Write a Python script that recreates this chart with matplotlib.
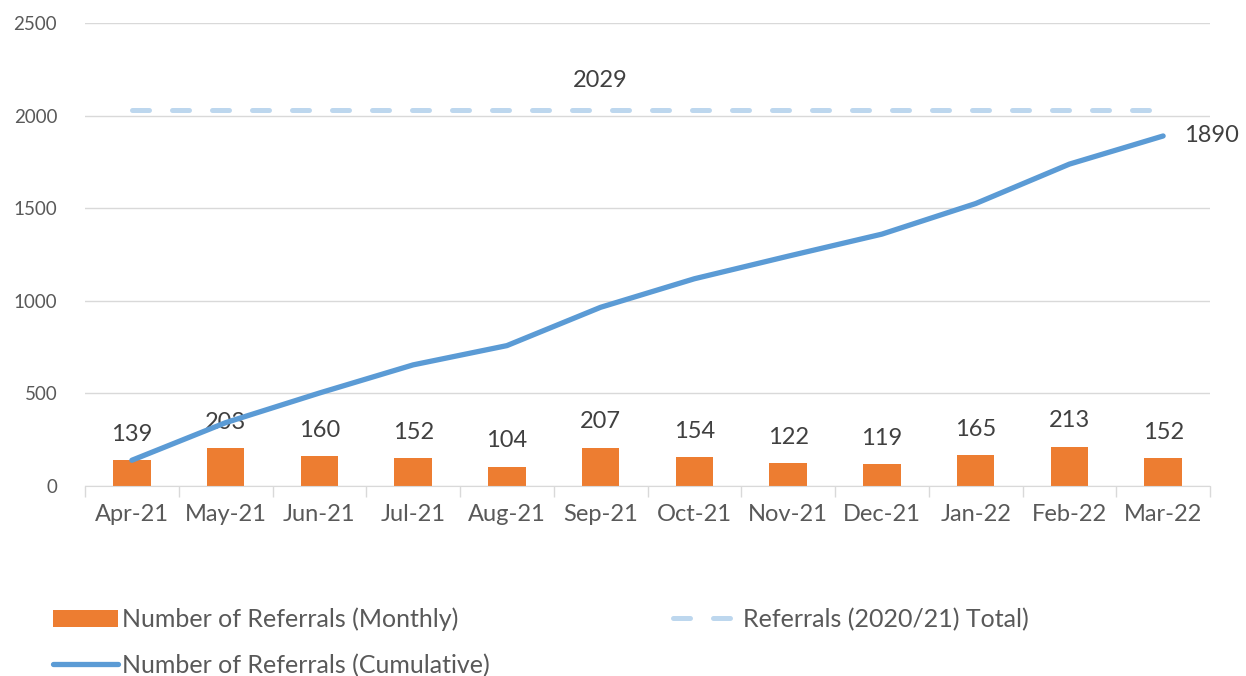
import matplotlib.pyplot as plt
import numpy as np

months = ['Apr-21', 'May-21', 'Jun-21', 'Jul-21', 'Aug-21', 'Sep-21',
          'Oct-21', 'Nov-21', 'Dec-21', 'Jan-22', 'Feb-22', 'Mar-22']
monthly = [139, 203, 160, 152, 104, 207, 154, 122, 119, 165, 213, 152]
cumulative = [139, 342, 502, 654, 758, 965, 1119, 1241, 1360, 1525, 1738, 1890]
prev_total = 2029

plt.rcParams['font.family'] = ['Lato', 'DejaVu Sans']
txt = '#404040'
grey = '#595959'

fig = plt.figure(figsize=(12.46, 6.76), dpi=100)
ax = fig.add_axes([85 / 1246, 1 - 486 / 676, (1210 - 85) / 1246, (486 - 23) / 676])

x = np.arange(len(months))

# bars + labels
bars = ax.bar(x, monthly, width=0.4, color='#ED7D31', zorder=2,
              label='Number of Referrals (Monthly)')
for xi, v in zip(x, monthly):
    ax.annotate(str(v), (xi, v), xytext=(0, 11), textcoords='offset points',
                ha='center', va='bottom', fontsize=17, color=txt)

# previous year total
tot, = ax.plot(x, [prev_total] * len(x), color='#BDD7EE', lw=3.6,
               dashes=(3.4, 4.6), dash_capstyle='round', zorder=3,
               label='Referrals (2020/21) Total)')
ax.annotate(str(prev_total), (x[5], prev_total), xytext=(0, 14),
            textcoords='offset points', ha='center', va='bottom',
            fontsize=17, color=txt)

# cumulative
cum, = ax.plot(x, cumulative, color='#5B9BD5', lw=3.8, zorder=4,
               solid_capstyle='round', label='Number of Referrals (Cumulative)')
ax.annotate(str(cumulative[-1]), (x[-1], cumulative[-1]), xytext=(15, 0),
            textcoords='offset points', ha='left', va='center',
            fontsize=17, color=txt)

ax.set_xlim(-0.5, len(x) - 0.5)
ax.set_ylim(0, 2500)
ax.set_yticks(range(0, 2501, 500))
ax.yaxis.grid(True, color='#D9D9D9', lw=1)
ax.set_axisbelow(True)

ax.set_xticks(x)
ax.set_xticklabels(months, fontsize=17, color=grey)
ax.set_xticks(np.arange(-0.5, len(x)), minor=True)
ax.tick_params(axis='x', which='major', length=0, pad=13)
ax.tick_params(axis='x', which='minor', length=8, color='#D9D9D9', width=1)
ax.tick_params(axis='y', length=0, labelsize=13.5, labelcolor=grey, pad=20)

for s in ['top', 'right', 'left']:
    ax.spines[s].set_visible(False)
ax.spines['bottom'].set_color('#D9D9D9')

fig.legend(handles=[bars, cum, tot], loc='upper left',
           bbox_to_anchor=(30 / 1246, 1 - 585 / 676), ncol=2, frameon=False,
           fontsize=18, labelcolor=grey, handlelength=2.6, handletextpad=0.2,
           columnspacing=7.3, labelspacing=0.9)

fig.savefig('out.png', dpi=100)
